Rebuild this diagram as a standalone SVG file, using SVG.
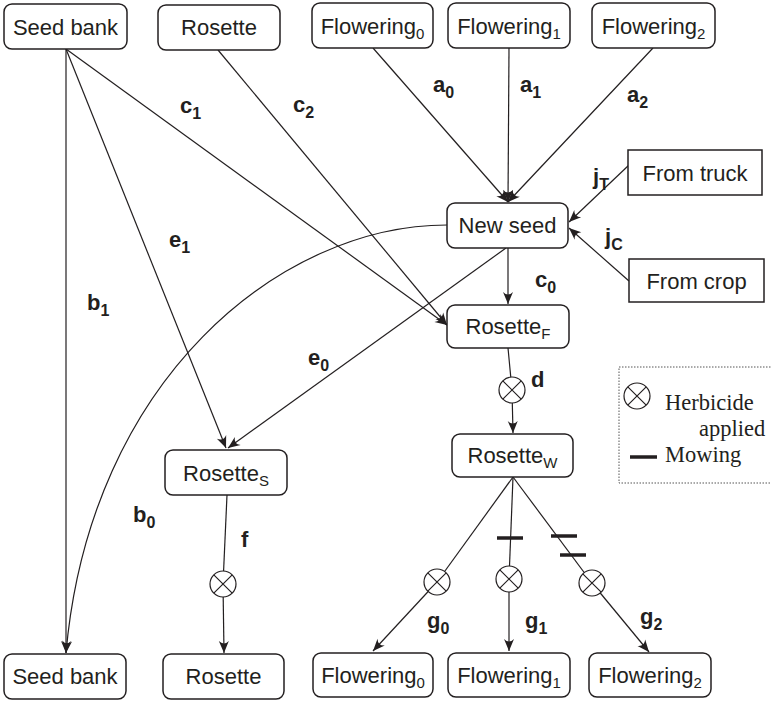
<svg xmlns="http://www.w3.org/2000/svg" width="771" height="702" viewBox="0 0 771 702">
  <style>
    .box { fill: #fff; stroke: #231f20; stroke-width: 1.5; }
    .name { font-family: "Liberation Sans", Arial, sans-serif; font-size: 22px; fill: #231f20; text-anchor: middle; }
    .nsub { font-size: 15px; }
    .lbl { font-family: "Liberation Sans", Arial, sans-serif; font-size: 22px; font-weight: bold; fill: #231f20; }
    .lsub { font-size: 16px; }
    .edge { fill: none; stroke: #231f20; stroke-width: 1.2; }
    .arr { marker-end: url(#head); }
    .herb { fill: #fff; stroke: #231f20; stroke-width: 1.2; }
    .mow { stroke: #231f20; stroke-width: 3.5; }
    .legend-text { font-family: "Liberation Serif", "Times New Roman", serif; font-size: 22.5px; fill: #231f20; }
  </style>
  <defs>
    <marker id="head" markerUnits="userSpaceOnUse" markerWidth="16" markerHeight="14" refX="0" refY="0" viewBox="-14 -7 16 14" orient="auto">
      <path d="M0,0 L-12,-5 Q-7,0 -12,5 Z" fill="#231f20"/>
    </marker>
    <g id="herbicide">
      <circle r="13" class="herb"/>
      <path d="M-9.2,-9.2 L9.2,9.2 M-9.2,9.2 L9.2,-9.2" stroke="#231f20" stroke-width="1.2"/>
    </g>
  </defs>

  <!-- connectors -->
  <g id="connectors">
    <!-- from seed bank (top) -->
    <path class="edge arr" d="M66,49 L66,653"/>
    <path class="edge arr" d="M66,49 L226,448"/>
    <path class="edge arr" d="M66,49 L447,325"/>
    <!-- from rosette (top) -->
    <path class="edge arr" d="M218,50 L447,325"/>
    <!-- flowering to new seed -->
    <path class="edge arr" d="M373,48 L508,202"/>
    <path class="edge arr" d="M509,48 L508,202"/>
    <path class="edge arr" d="M653,48 L508,202"/>
    <!-- imports -->
    <path class="edge arr" d="M629,165 L569,222"/>
    <path class="edge arr" d="M629,281 L569,228"/>
    <!-- new seed outputs -->
    <path class="edge arr" d="M447,225 C280,225 90,380 66,653"/>
    <path class="edge arr" d="M508,248 L508,304"/>
    <path class="edge arr" d="M506,248 L228,448"/>
    <!-- d: rosette F to rosette W through herbicide -->
    <path class="edge" d="M508,348 L512,390"/>
    <path class="edge arr" d="M512,390 L513,433"/>
    <!-- f: rosette S to rosette -->
    <path class="edge" d="M227,495 L223,584"/>
    <path class="edge arr" d="M223,584 L224,653"/>
    <!-- g: rosette W to flowering -->
    <path class="edge" d="M513,477 L437,582"/>
    <path class="edge arr" d="M437,582 L373,651"/>
    <path class="edge" d="M513,477 L509,579"/>
    <path class="edge arr" d="M509,579 L509,651"/>
    <path class="edge" d="M513,477 L592,583"/>
    <path class="edge arr" d="M592,583 L649,652"/>

    <!-- mowing marks -->
    <line class="mow" x1="497" y1="538" x2="523" y2="538"/>
    <line class="mow" x1="551" y1="536" x2="577" y2="536"/>
    <line class="mow" x1="560" y1="555" x2="586" y2="555"/>

    <!-- herbicide marks -->
    <use href="#herbicide" x="512" y="390"/>
    <use href="#herbicide" x="223" y="584"/>
    <use href="#herbicide" x="437" y="582"/>
    <use href="#herbicide" x="509" y="579"/>
    <use href="#herbicide" x="592" y="583"/>

    <!-- rate labels -->
    <text class="lbl" x="180" y="113">c<tspan class="lsub" dy="6">1</tspan></text>
    <text class="lbl" x="293" y="112">c<tspan class="lsub" dy="6">2</tspan></text>
    <text class="lbl" x="433" y="92">a<tspan class="lsub" dy="6">0</tspan></text>
    <text class="lbl" x="520" y="92">a<tspan class="lsub" dy="6">1</tspan></text>
    <text class="lbl" x="627" y="102">a<tspan class="lsub" dy="6">2</tspan></text>
    <text class="lbl" x="593" y="184">j<tspan class="lsub" dy="6">T</tspan></text>
    <text class="lbl" x="605" y="244">j<tspan class="lsub" dy="6">C</tspan></text>
    <text class="lbl" x="535" y="287">c<tspan class="lsub" dy="6">0</tspan></text>
    <text class="lbl" x="531" y="387">d</text>
    <text class="lbl" x="169" y="247">e<tspan class="lsub" dy="6">1</tspan></text>
    <text class="lbl" x="87" y="310">b<tspan class="lsub" dy="6">1</tspan></text>
    <text class="lbl" x="308" y="365">e<tspan class="lsub" dy="6">0</tspan></text>
    <text class="lbl" x="133" y="522">b<tspan class="lsub" dy="6">0</tspan></text>
    <text class="lbl" x="241" y="547">f</text>
    <text class="lbl" x="427" y="628">g<tspan class="lsub" dy="6">0</tspan></text>
    <text class="lbl" x="525" y="628">g<tspan class="lsub" dy="6">1</tspan></text>
    <text class="lbl" x="640" y="624">g<tspan class="lsub" dy="6">2</tspan></text>
  </g>

  <!-- nodes -->
  <g id="seed-bank-top"><rect class="box" x="4" y="4" width="123" height="45" rx="8"/><text class="name" x="65.5" y="35">Seed bank</text></g>
  <g id="rosette-top"><rect class="box" x="158" y="5" width="122" height="45" rx="8"/><text class="name" x="219" y="35">Rosette</text></g>
  <g id="flowering0-top"><rect class="box" x="312" y="3" width="121" height="45" rx="8"/><text class="name" x="372.5" y="34">Flowering<tspan class="nsub" dy="5">0</tspan></text></g>
  <g id="flowering1-top"><rect class="box" x="448" y="3" width="122" height="45" rx="8"/><text class="name" x="509" y="34">Flowering<tspan class="nsub" dy="5">1</tspan></text></g>
  <g id="flowering2-top"><rect class="box" x="592" y="3" width="123" height="45" rx="8"/><text class="name" x="653.5" y="34">Flowering<tspan class="nsub" dy="5">2</tspan></text></g>
  <g id="from-truck"><rect class="box" x="628" y="150" width="134" height="45"/><text class="name" x="695" y="181">From truck</text></g>
  <g id="new-seed"><rect class="box" x="447" y="203" width="121" height="45" rx="8"/><text class="name" x="507.5" y="233">New seed</text></g>
  <g id="from-crop"><rect class="box" x="629" y="259" width="135" height="43"/><text class="name" x="696.5" y="289">From crop</text></g>
  <g id="rosette-f"><rect class="box" x="447" y="305" width="122" height="43" rx="8"/><text class="name" x="508" y="334">Rosette<tspan class="nsub" dy="5">F</tspan></text></g>
  <g id="rosette-s"><rect class="box" x="165" y="450" width="122" height="45" rx="8"/><text class="name" x="226" y="481">Rosette<tspan class="nsub" dy="5">S</tspan></text></g>
  <g id="rosette-w"><rect class="box" x="452" y="434" width="121" height="43" rx="8"/><text class="name" x="512.5" y="463">Rosette<tspan class="nsub" dy="5">W</tspan></text></g>
  <g id="seed-bank-bottom"><rect class="box" x="4" y="654" width="122" height="45" rx="8"/><text class="name" x="65" y="684">Seed bank</text></g>
  <g id="rosette-bottom"><rect class="box" x="163" y="654" width="121" height="45" rx="8"/><text class="name" x="223.5" y="684">Rosette</text></g>
  <g id="flowering0-bottom"><rect class="box" x="313" y="653" width="120" height="44" rx="8"/><text class="name" x="373" y="683">Flowering<tspan class="nsub" dy="5">0</tspan></text></g>
  <g id="flowering1-bottom"><rect class="box" x="448" y="653" width="122" height="44" rx="8"/><text class="name" x="509" y="683">Flowering<tspan class="nsub" dy="5">1</tspan></text></g>
  <g id="flowering2-bottom"><rect class="box" x="589" y="653" width="122" height="44" rx="8"/><text class="name" x="650" y="683">Flowering<tspan class="nsub" dy="5">2</tspan></text></g>

  <!-- legend -->
  <g id="legend">
    <rect x="619" y="367" width="160" height="116" fill="none" stroke="#555" stroke-width="1" stroke-dasharray="1.5,1.5"/>
    <use href="#herbicide" x="637" y="396"/>
    <text class="legend-text" x="665" y="410">Herbicide</text>
    <text class="legend-text" x="699" y="436">applied</text>
    <line class="mow" x1="630" y1="457" x2="657" y2="457"/>
    <text class="legend-text" x="665" y="462">Mowing</text>
  </g>
</svg>
